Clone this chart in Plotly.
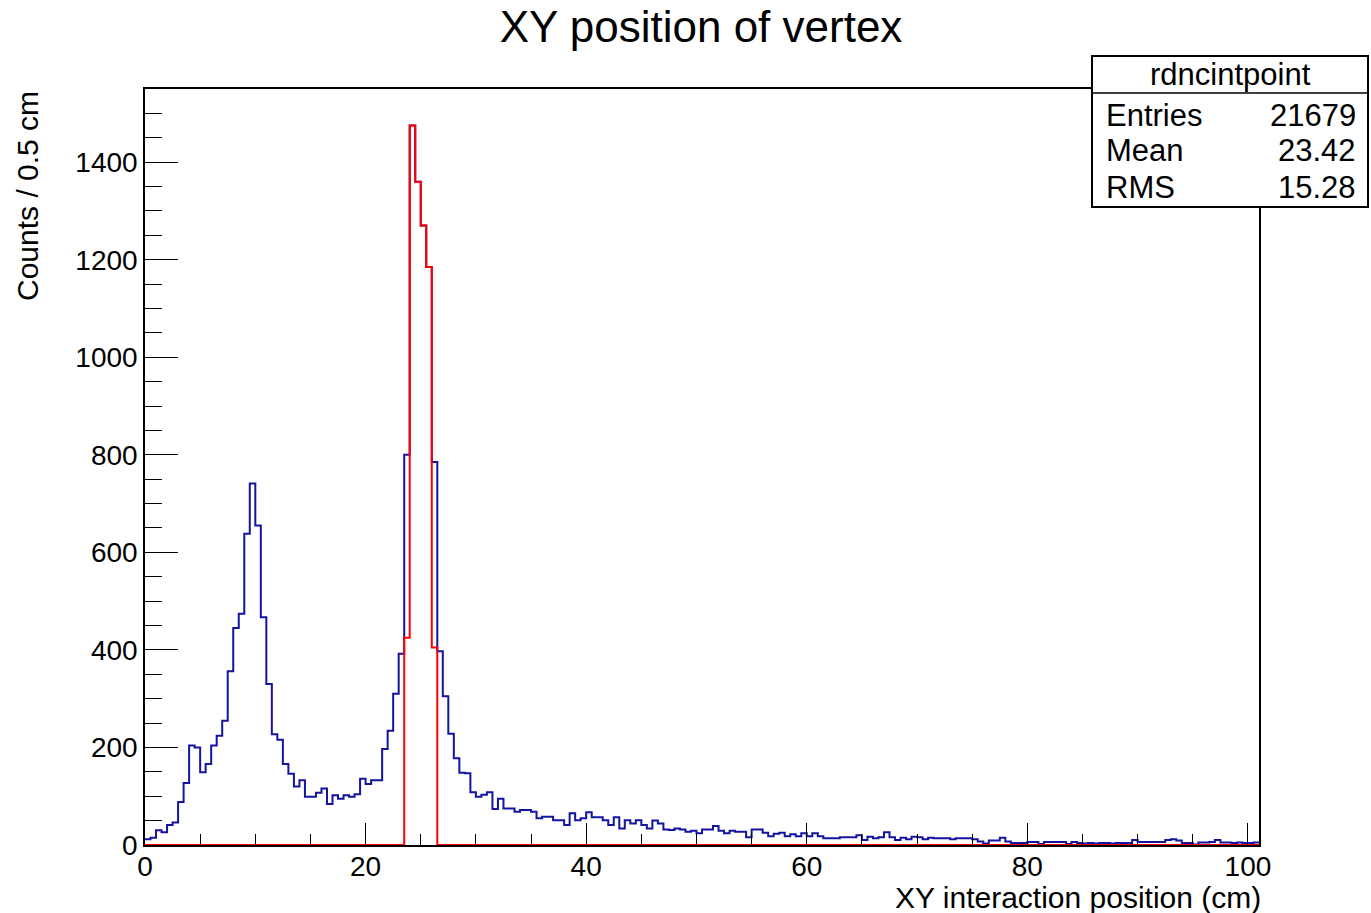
import numpy as np
import plotly.graph_objects as go

# ---------------- data ----------------
bin_width = 0.5
x_min, x_max = 0.0, 101.0

blue_counts = (
    [12, 15, 30, 26, 41, 46, 88, 127, 204, 200, 149, 166, 204, 224, 255, 356, 445, 474, 638, 741,
     655, 467, 330, 227, 216, 166]
    + [146, 120, 133, 99, 99, 107, 116, 84, 102, 95, 102, 99, 104, 136, 125, 133, 133, 197, 234, 310, 392]
    + [800, 1475, 1360, 1270, 1185, 785, 397]
    + [305, 228, 178, 148, 147, 108, 99, 103, 108, 74, 95, 75, 75, 68, 72, 72, 68, 55, 58, 58,
       51, 51, 41, 65, 51, 55, 67, 57, 57, 51, 41, 57, 34, 51, 44, 51, 41, 34, 50, 44, 32, 31, 34, 32, 27]
    + [29, 24, 32, 32, 39, 29, 24, 29, 27, 27, 16, 32, 32, 25, 18, 23, 25, 18, 22, 18, 24, 18, 24, 18, 14]
    + [14, 14, 16, 16, 16, 20, 10, 17, 14, 16, 26, 16, 10, 15, 12, 17, 16, 12, 15, 14, 14, 14, 12, 14, 14, 14]
    + [12, 7, 3, 9, 9, 15, 7, 4, 4, 4, 6, 6, 2, 6, 6, 6, 6, 2, 6, 4, 3, 4, 3, 4, 4, 3, 4, 4, 4, 10,
       6, 6, 6, 6, 6, 10, 12, 9, 4, 4, 1, 5, 5, 6, 10, 5, 5, 4, 5, 4, 4, 5]
)

red_first_edge = 23.5
red_peak_counts = [425, 1475, 1360, 1270, 1185, 405]

stats_name = "rdncintpoint"
stats_labels = ["Entries", "Mean", "RMS"]
stats_values = ["21679", "23.42", "15.28"]

title_text = "XY position of vertex"
x_title = "XY interaction position (cm)"
y_title = "Counts / 0.5 cm"

# ---------------- build ----------------
n_bins = int(round((x_max - x_min) / bin_width))
edges = x_min + bin_width * np.arange(n_bins + 1)
blue = np.array(blue_counts, dtype=float)
red = np.zeros(n_bins)
i0 = int(round((red_first_edge - x_min) / bin_width))
red[i0:i0 + len(red_peak_counts)] = red_peak_counts


def step(vals):
    return list(edges), list(vals) + [vals[-1]]


bx, by = step(blue)
rx, ry = step(red)

FONT = "Liberation Sans, Arial, Helvetica, sans-serif"

fig = go.Figure()
fig.add_trace(go.Scatter(x=bx, y=by, mode="lines", line=dict(shape="hv", color="#1414a0", width=2),
                         hoverinfo="skip", showlegend=False))
fig.add_trace(go.Scatter(x=rx, y=ry, mode="lines", line=dict(shape="hv", color="#ff0000", width=2),
                         hoverinfo="skip", showlegend=False))

L, R, T, B = 145, 1259, 89, 845
W, H = 1371, 913
pw, ph = R - L, B - T


def px_x(p):
    return (p - L) / pw


def px_y(p):
    return (B - p) / ph


axis_common = dict(showgrid=False, zeroline=False, showline=True, linecolor="black", linewidth=1.5,
                   mirror=True, ticks="inside", tickcolor="black", tickwidth=1.2,
                   tickfont=dict(family=FONT, size=28, color="black"))

fig.update_layout(
    width=W, height=H,
    margin=dict(l=L, r=W - R, t=T, b=H - B),
    paper_bgcolor="white", plot_bgcolor="white",
    font=dict(family=FONT, color="black"),
    title=dict(text=title_text, x=701 / W, xanchor="center", y=1 - 27 / H, yanchor="middle",
               font=dict(family=FONT, size=44, color="black")),
    xaxis=dict(range=[x_min, x_max], tickmode="linear", tick0=0, dtick=20, ticklen=22,
               ticklabelstandoff=-4,
               minor=dict(tick0=0, dtick=5, ticklen=11, ticks="inside", tickcolor="black", tickwidth=1.2),
               **axis_common),
    yaxis=dict(range=[0, 1550], tickmode="linear", tick0=0, dtick=200, ticklen=33,
               minor=dict(tick0=0, dtick=50, ticklen=17, ticks="inside", tickcolor="black", tickwidth=1.2),
               **axis_common),
)

ann = []
ann.append(dict(text=x_title, xref="paper", yref="paper", x=1.0, xanchor="right", xshift=4,
                y=px_y(897), yanchor="middle", showarrow=False, font=dict(family=FONT, size=30, color="black")))
ann.append(dict(text=y_title, xref="paper", yref="paper", x=px_x(27), xanchor="center",
                y=1.0, yanchor="top", textangle=-90, showarrow=False,
                font=dict(family=FONT, size=30, color="black")))

# stats box
bx0, bx1, by_top, by_bot, by_sep = 1092, 1368, 56, 207, 93
fig.add_shape(type="rect", xref="paper", yref="paper", x0=px_x(bx0), x1=px_x(bx1),
              y0=px_y(by_bot), y1=px_y(by_top), fillcolor="white", line=dict(color="black", width=2),
              layer="above")
fig.add_shape(type="line", xref="paper", yref="paper", x0=px_x(bx0), x1=px_x(bx1),
              y0=px_y(by_sep), y1=px_y(by_sep), line=dict(color="black", width=1.5), layer="above")
ann.append(dict(text=stats_name, xref="paper", yref="paper", x=px_x(1230), xanchor="center",
                y=px_y(75), yanchor="middle", showarrow=False, font=dict(family=FONT, size=31, color="black")))
for lab, val, py in zip(stats_labels, stats_values, [115, 151, 187]):
    ann.append(dict(text=lab, xref="paper", yref="paper", x=px_x(1104), xanchor="left",
                    y=px_y(py), yanchor="middle", showarrow=False, font=dict(family=FONT, size=31, color="black")))
    ann.append(dict(text=val, xref="paper", yref="paper", x=px_x(1358), xanchor="right",
                    y=px_y(py), yanchor="middle", showarrow=False, font=dict(family=FONT, size=31, color="black")))

fig.update_layout(annotations=ann)
fig.write_html("out.html")
